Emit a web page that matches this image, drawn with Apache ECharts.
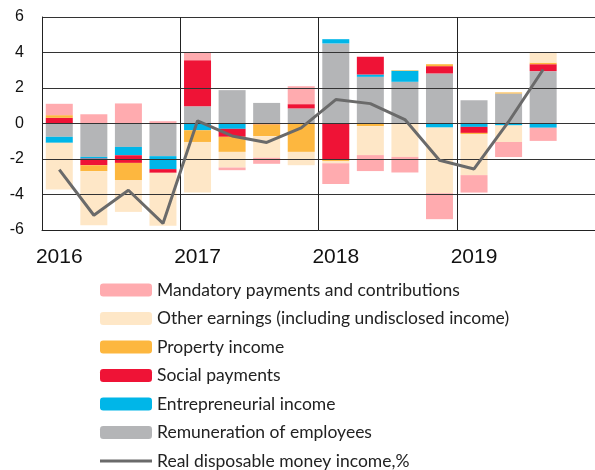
<!DOCTYPE html>
<html>
<head>
<meta charset="utf-8">
<script src="https://cdn.jsdelivr.net/npm/echarts@6/dist/echarts.min.js"></script>
<style>
  html, body { margin: 0; padding: 0; background: #fff; }
  #chart { width: 595px; height: 470px; }
</style>
</head>
<body>
<div id="chart"></div>
<script>
// quarters, 2016 Q1 .. 2019 Q4 (last one empty)
var quarters = ['Q1 2016','Q2 2016','Q3 2016','Q4 2016',
                'Q1 2017','Q2 2017','Q3 2017','Q4 2017',
                'Q1 2018','Q2 2018','Q3 2018','Q4 2018',
                'Q1 2019','Q2 2019','Q3 2019','Q4 2019'];
var yTicks = [-6, -4, -2, 0, 2, 4, 6];

// contributions, p.p.
var remuneration   = [-0.75, -1.88, -1.32, -1.84,  0.97,  1.88,  1.16,  0.85,  4.51,  2.63,  2.35,  2.82,  1.31,  1.69,  2.95, null];
var entrepreneurial= [-0.34, -0.10, -0.47, -0.73, -0.38, -0.30,  0,     0,     0.24,  0.13,  0.62, -0.23, -0.19, -0.11, -0.24, null];
var social         = [ 0.32, -0.37, -0.43, -0.21,  2.60, -0.45, -0.05,  0.24, -2.00,  1.00,  0,     0.41, -0.34,  0,     0.39, null];
var property       = [ 0.15, -0.34, -0.98,  0,    -0.66, -0.85, -0.66, -1.60, -0.11, -0.15,  0.03,  0.11, -0.06,  0.06,  0.09, null];
var otherEarnings  = [-2.63, -3.04, -1.78, -2.98, -2.85, -0.88, -1.22, -0.75, -0.13, -1.63, -1.88, -3.70, -2.32, -0.93,  0.56, null];
var mandatory      = [ 0.64,  0.52,  1.13,  0.13,  0.41, -0.15, -0.34,  1.01, -1.17, -0.90, -0.88, -1.46, -0.98, -0.85, -0.74, null];
// real disposable money income, %
var realIncome     = [-2.60, -5.17, -3.76, -5.63,  0.15, -0.70, -1.07, -0.25,  1.35,  1.12,  0.22, -2.07, -2.56,  0.10,  3.04, null];

var chart = echarts.init(document.getElementById('chart'));

function bar(name, data, color) {
    return {
        name: name,
        type: 'bar',
        stack: 'total',
        barWidth: 27,
        data: data,
        itemStyle: { color: color },
        z: 2
    };
}

var option = {
    animation: false,
    grid: { left: 42, top: 17, width: 557, height: 213 },
    legend: {
        orient: 'vertical',
        left: 100,
        top: 281,
        height: 200,
        padding: 0,
        itemWidth: 52,
        itemHeight: 13,
        itemGap: 10.5,
        textStyle: { fontFamily: 'Lato', fontSize: 17.5, color: '#222', lineHeight: 18 },
        data: ['Mandatory payments and contributions',
               'Other earnings (including undisclosed income)',
               'Property income',
               'Social payments',
               'Entrepreneurial income',
               'Remuneration of employees',
               { name: 'Real disposable money income,%', icon: 'path://M0,0 H52 V3 H0 Z' }]
    },
    xAxis: {
        type: 'category',
        data: quarters,
        z: 3,
        axisLine: { onZero: false, lineStyle: { color: '#222', width: 1 } },
        axisTick: { show: false },
        axisLabel: {
            interval: 3,
            margin: 17,
            fontFamily: 'Liberation Sans Narrow, Liberation Sans',
            fontSize: 21,
            color: '#111',
            formatter: function (v) { return v.slice(3); }
        },
        splitLine: { show: true, interval: 3, lineStyle: { color: '#222', width: 1 } }
    },
    yAxis: {
        type: 'value',
        min: yTicks[0],
        max: yTicks[yTicks.length - 1],
        interval: 2,
        z: 3,
        axisLine: { show: true, lineStyle: { color: '#222', width: 1 } },
        axisTick: { show: false },
        axisLabel: { margin: 18, fontFamily: 'Liberation Sans', fontSize: 16, color: '#111' },
        splitLine: { show: true, lineStyle: { color: '#333', width: 1 } }
    },
    series: [
        bar('Remuneration of employees', remuneration, '#b4b5b7'),
        bar('Entrepreneurial income', entrepreneurial, '#00b6e8'),
        bar('Social payments', social, '#ef1336'),
        bar('Property income', property, '#fdb73f'),
        bar('Other earnings (including undisclosed income)', otherEarnings, '#fee7c7'),
        bar('Mandatory payments and contributions', mandatory, '#ffabaf'),
        {
            name: 'Real disposable money income,%',
            type: 'line',
            data: realIncome,
            symbol: 'none',
            z: 5,
            lineStyle: { color: '#6a6a6a', width: 3 },
            itemStyle: { color: '#6a6a6a' }
        }
    ]
};

chart.setOption(option);
</script>
</body>
</html>
